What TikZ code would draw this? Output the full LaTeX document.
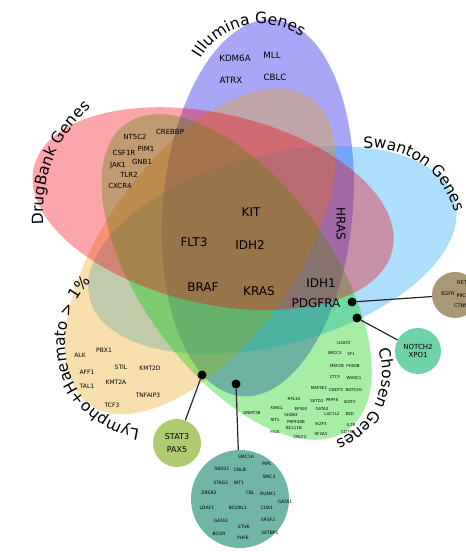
\documentclass[tikz,border=0pt]{standalone}
\usepackage{fontspec}
\setmainfont{DejaVu Sans}
\usepackage{tikz}
\usetikzlibrary{decorations.text}
\definecolor{illum}{RGB}{10,0,235}
\definecolor{drug}{RGB}{245,0,15}
\definecolor{swan}{RGB}{20,160,245}
\definecolor{lymph}{RGB}{232,165,20}
\definecolor{chosen}{RGB}{0,205,0}
\definecolor{statc}{RGB}{174,203,112}
\definecolor{notchc}{RGB}{112,210,168}
\definecolor{rtkc}{RGB}{168,152,118}
\definecolor{panelc}{RGB}{112,182,166}
\newcommand{\catfont}{\fontsize{15.5}{18}\selectfont}
\tikzstyle{big}=[font=\fontsize{12}{14}\selectfont, inner sep=0pt]
\tikzstyle{ill}=[font=\fontsize{8.7}{10}\selectfont, inner sep=0pt]
\tikzstyle{dbk}=[font=\fontsize{7}{8}\selectfont, inner sep=0pt]
\tikzstyle{lym}=[font=\fontsize{6}{7}\selectfont, inner sep=0pt]
\tikzstyle{cho}=[font=\fontsize{4}{5}\selectfont, inner sep=0pt]
\tikzstyle{tea}=[font=\fontsize{4.5}{5}\selectfont, inner sep=0pt]
\tikzstyle{rtk}=[font=\fontsize{5}{6}\selectfont, inner sep=0pt]
\tikzstyle{dot}=[circle, fill=black, inner sep=0pt, minimum size=9pt]
\tikzstyle{bubble}=[circle, inner sep=0pt, align=center]
\tikzstyle{link}=[line width=1.2pt, black!85]

\begin{document}
\begin{tikzpicture}[x=1pt,y=1pt]
\useasboundingbox (0,0) rectangle (466,552);
\clip (0,0) rectangle (466,552);

% sets
\begin{scope}[shift={(236,313)}]
\foreach \k/\col/\tilt/\len in {0/illum/-5/189,4/swan/-3/189,2/lymph/0/189,3/chosen/0/189,1/drug/5/184}
    \fill[\col, fill opacity=0.35, rotate=72*\k] (55:38) circle[x radius=95, y radius=\len, rotate=\tilt];
\end{scope}

% set names
\coordinate (illc) at (261,458);
\coordinate (drugc) at (181,340);
\coordinate (swanc) at (371,317);
\coordinate (choc) at (309,179);
\coordinate (lymc) at (151,208);
{\catfont
\path[decorate, decoration={text along path, text align=center, text={Illumina Genes}}]
    ([shift={(175:70)}]illc) arc[start angle=175, end angle=29, radius=70];
\path[decorate, decoration={text along path, text align=center, text={DrugBank Genes}}]
    ([shift={(200:138)}]drugc) arc[start angle=200, end angle=116, radius=138];
\path[decorate, decoration={text along path, text align=center, text={Swanton Genes}}]
    ([shift={(130:87)}]swanc) arc[start angle=130, end angle=-20, radius=87];
\path[decorate, decoration={text along path, text align=center, text={Chosen Genes}}]
    ([shift={(40:73)}]choc) arc[start angle=40, end angle=-90, radius=73];
\path[decorate, decoration={text along path, text align=center, text={Lympho+Haemato > 1{\%}}}]
    ([shift={(278:86)}]lymc) arc[start angle=278, end angle=118, radius=86];
}

% genes
\foreach \g/\x/\y in {KDM6A/235/494, MLL/272/497, ATRX/231/472, CBLC/275/475}
    \node[ill] (\g) at (\x,\y) {\g};
\foreach \g/\x/\y in {CREBBP/170/420, NT5C2/135/415, PIM1/146/403, CSF1R/124/399,
    JAK1/118/386, GNB1/142/390, TLR2/129/377, CXCR4/120/366}
    \node[dbk] (\g) at (\x,\y) {\g};
\foreach \g/\x/\y in {KIT/251/340, FLT3/194/310, IDH2/250/307, BRAF/203/265,
    KRAS/259/261, IDH1/321/269, PDGFRA/316/249}
    \node[big] (\g) at (\x,\y) {\g};
\node[big, rotate=-90] (HRAS) at (341,328) {HRAS};
\foreach \g/\x/\y in {ALK/80/197, PBX1/104/202, AFF1/87/180, STIL/121/185, KMT2D/150/184,
    TAL1/87/166, KMT2A/116/170, TNFAIP3/148/157, TCF3/112/147}
    \node[lym] (\g) at (\x,\y) {\g};
\foreach \g/\x/\y in {U2AF2/344/209, BRCC3/335/199, SF1/351/198, MEF2B/337/186, PDS5B/353/186,
    CTCF/335/175, WHSC1/354/174, MAP3K1/319/164, CNOT3/336/162, NOTCH1/354/162,
    RPL10/294/153, SETD2/317/151, PRPF8/332/152, IKZF2/350/150, FANCL/277/144,
    EP300/301/143, GATA3/322/143, SH2B3/291/137, LUC7L2/332/138, EED/350/138,
    RIT1/275/132, PRPF40B/296/130, IKZF3/321/128, IL7R/351/127, BCL11B/294/124,
    PIGA/275/120, SF3A1/321/118, CD79B/348/120, CRLF2/300/115, DNMT3B/252/139}
    \node[cho] (\g) at (\x,\y) {\g};

% side sets
\node[bubble, fill=panelc, minimum size=98pt] (panel) at (240,53) {};
\foreach \g/\x/\y in {SMC1A/246/95, MPL/267/88, RAD21/222/83, CBLB/240/82, SMC3/269/75,
    STAG2/221/69, WT1/239/69, ZRSR2/209/59, CBL/250/59, RUNX1/268/58, GATA1/285/50,
    U2AF1/207/44, BCORL1/238/44, CUX1/267/44, GATA2/221/31, SRSF2/268/32,
    ETV6/244/25, BCOR/219/18, SETBP1/270/19, PHF6/243/14}
    \node[tea] (\g) at (\x,\y) {\g};
\node[bubble, fill=statc, minimum size=48pt, font=\fontsize{8}{12.5}\selectfont] (statpax) at (177,109) {STAT3\\PAX5};
\node[bubble, fill=notchc, minimum size=46pt, font=\fontsize{7}{8.5}\selectfont] (notchxpo) at (418,201) {NOTCH2\\XPO1};
\node[bubble, fill=rtkc, minimum size=46pt] (rtkset) at (455,257) {};
\node[rtk] (RET) at (462,269) {RET};
\node[rtk] (EGFR) at (448,258) {EGFR};
\node[rtk, anchor=west] (PIK3CA) at (456.5,256) {PIK3CA};
\node[rtk, anchor=west] (CTNNB1) at (454,246) {CTNNB1};

% links
\node[dot] (dA) at (352,250) {};
\node[dot] (dB) at (357,234) {};
\node[dot] (dC) at (202,177) {};
\node[dot] (dD) at (236,168) {};
\draw[link] (dA) -- (rtkset);
\draw[link] (dB) -- (notchxpo);
\draw[link] (dC) -- (statpax);
\draw[link] (dD) -- (panel);

\end{tikzpicture}
\end{document}
